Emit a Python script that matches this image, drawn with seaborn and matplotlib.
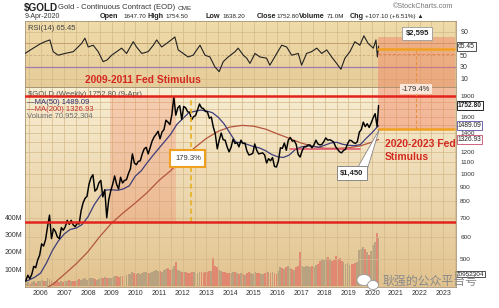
import numpy as np
import matplotlib
matplotlib.use("Agg")
import matplotlib.pyplot as plt
import matplotlib.transforms as mtransforms
from matplotlib.colors import LinearSegmentedColormap
from matplotlib.patches import Polygon, Ellipse
from matplotlib.ticker import NullLocator
import seaborn as sns

# ---------------- data ----------------
price_close = [
    418, 437, 425, 440, 470, 465, 495, 515,                                  # 2005 May-Dec
    565, 555, 585, 650, 715, 590, 640, 625, 598, 590, 645, 632,              # 2006
    650, 685, 663, 685, 660, 650, 668, 665, 740, 790, 820, 834,              # 2007
    920, 970, 995, 870, 885, 930, 950, 830, 880, 700, 810, 870,              # 2008
    920, 985, 920, 885, 975, 930, 950, 955, 1005, 1045, 1180, 1095,          # 2009
    1080, 1110, 1115, 1180, 1230, 1245, 1180, 1245, 1310, 1355, 1385, 1420,  # 2010
    1335, 1410, 1440, 1555, 1530, 1500, 1625, 1880, 1620, 1720, 1750, 1565,  # 2011
    1740, 1720, 1665, 1660, 1560, 1600, 1615, 1690, 1775, 1720, 1710, 1670,  # 2012
    1665, 1580, 1595, 1470, 1390, 1230, 1320, 1400, 1325, 1320, 1250, 1200,  # 2013
    1245, 1330, 1285, 1295, 1250, 1320, 1285, 1290, 1210, 1170, 1175, 1185,  # 2014
    1280, 1215, 1180, 1185, 1190, 1170, 1095, 1135, 1115, 1145, 1065, 1060,  # 2015
    1115, 1240, 1235, 1290, 1215, 1320, 1350, 1310, 1315, 1275, 1175, 1150,  # 2016
    1210, 1250, 1250, 1270, 1270, 1240, 1270, 1320, 1280, 1270, 1275, 1305,  # 2017
    1345, 1320, 1325, 1315, 1300, 1250, 1225, 1200, 1190, 1215, 1225, 1280,  # 2018
    1320, 1315, 1295, 1285, 1305, 1410, 1440, 1530, 1475, 1510, 1465, 1520,  # 2019
    1585, 1640, 1475, 1752.8,                                                # 2020 Jan-Apr
]
volume_m = [
    18, 25, 15, 22, 30, 20, 28, 32,
    35, 28, 30, 45, 42, 30, 25, 22, 28, 26, 30, 25,
    30, 28, 35, 32, 30, 28, 35, 40, 38, 42, 45, 38,
    48, 45, 50, 42, 38, 40, 45, 48, 55, 50, 45, 48,
    55, 60, 58, 55, 62, 58, 60, 65, 70, 72, 80, 78,
    72, 75, 70, 78, 85, 80, 75, 78, 85, 90, 95, 88,
    90, 85, 92, 100, 105, 95, 100, 120, 140, 95, 90, 85,
    80, 85, 78, 75, 82, 80, 75, 78, 85, 80, 78, 82,
    85, 90, 88, 165, 120, 110, 95, 90, 85, 80, 78, 75,
    78, 80, 82, 75, 72, 78, 70, 68, 75, 80, 78, 72,
    80, 78, 75, 72, 70, 75, 85, 80, 78, 82, 75, 72,
    90, 110, 105, 100, 110, 115, 105, 100, 95, 110, 120, 200,
    115, 110, 120, 115, 110, 118, 112, 125, 130, 150, 160, 155,
    165, 170, 160, 150, 155, 175, 160, 165, 150, 140, 130, 135,
    125, 130, 128, 135, 140, 210, 220, 230, 215, 200, 185, 205,
    240, 260, 310, 280,
]
start_year, start_month, last_point = 2005, 5, 2020.27

ma50_t = [2005.34, 2005.5, 2005.75, 2006.0, 2006.25, 2006.5, 2006.75, 2007.0, 2007.25, 2007.5,
          2007.75, 2008.0, 2008.25, 2008.5, 2008.75, 2009.0, 2009.25, 2009.5, 2009.75, 2010.0,
          2010.25, 2010.5, 2010.75, 2011.0, 2011.25, 2011.5, 2011.75, 2012.0, 2012.25, 2012.5,
          2012.75, 2013.0, 2013.25, 2013.5, 2013.75, 2014.0, 2014.25, 2014.5, 2014.75, 2015.0,
          2015.25, 2015.5, 2015.75, 2016.0, 2016.25, 2016.5, 2016.75, 2017.0, 2017.25, 2017.5,
          2017.75, 2018.0, 2018.25, 2018.5, 2018.75, 2019.0, 2019.25, 2019.5, 2019.75, 2020.0,
          2020.27]
ma50_v = [415, 420, 430, 445, 484, 536, 579, 613, 636, 643,
          662, 705, 775, 833, 878, 880, 876, 886, 910, 984,
          1028, 1098, 1167, 1237, 1310, 1389, 1501, 1574, 1651, 1671,
          1688, 1677, 1654, 1593, 1507, 1396, 1297, 1294, 1273, 1252,
          1238, 1211, 1175, 1153, 1146, 1169, 1222, 1249, 1259, 1255,
          1246, 1267, 1290, 1298, 1277, 1266, 1262, 1273, 1341, 1405,
          1489.09]
ma200_t = [2005.34, 2006.0, 2006.5, 2007.0, 2007.5, 2008.0, 2008.5, 2009.0, 2009.5, 2010.0,
           2010.5, 2011.0, 2011.5, 2012.0, 2012.5, 2013.0, 2013.5, 2014.0, 2014.5, 2015.0,
           2015.5, 2016.0, 2016.5, 2017.0, 2017.5, 2018.0, 2018.5, 2019.0, 2019.5, 2020.0, 2020.27]
ma200_v = [360, 385, 405, 440, 480, 530, 600, 670, 730, 790,
           860, 950, 1030, 1140, 1240, 1340, 1420, 1470, 1490, 1480,
           1445, 1390, 1340, 1290, 1255, 1235, 1235, 1240, 1260, 1300, 1326.93]

rsi_t = [2005.34, 2005.69, 2005.97, 2006.18, 2006.39, 2006.53, 2006.74, 2007.03, 2007.38, 2007.73,
         2007.87, 2008.01, 2008.22, 2008.43, 2008.64, 2008.81, 2009.00, 2009.21, 2009.42, 2009.63,
         2009.91, 2010.05, 2010.27, 2010.54, 2010.76, 2010.90, 2011.11, 2011.32, 2011.67, 2011.81,
         2012.02, 2012.23, 2012.44, 2012.73, 2012.94, 2013.15, 2013.36, 2013.54, 2013.71, 2013.92,
         2014.21, 2014.34, 2014.56, 2014.70, 2014.84, 2015.05, 2015.26, 2015.54, 2015.68, 2015.97,
         2016.18, 2016.39, 2016.60, 2016.88, 2017.02, 2017.23, 2017.44, 2017.66, 2017.87, 2018.08,
         2018.29, 2018.50, 2018.68, 2018.85, 2019.06, 2019.27, 2019.48, 2019.65, 2019.83, 2020.05,
         2020.16, 2020.22, 2020.27]
rsi_v = [53, 62, 69, 73, 76, 56, 50, 53, 56, 70,
         79, 64, 67, 56, 39, 42, 50, 56, 62, 53,
         73, 64, 53, 56, 67, 76, 64, 70, 81, 59,
         53, 47, 50, 67, 50, 47, 30, 22, 39, 47,
         56, 62, 50, 45, 36, 53, 47, 45, 33, 53,
         67, 64, 50, 53, 33, 53, 56, 62, 53, 59,
         47, 36, 26, 45, 56, 73, 67, 83, 70, 62,
         76, 47, 65.45]

year_labels = [str(y) for y in range(2006, 2024)]
price_ticks = [500, 600, 700, 800, 900, 1000, 1100, 1200, 1400, 1600, 1900]
rsi_ticks = [10, 30, 50, 90]
vol_ticks = [100, 200, 300, 400]

# ---------------- figure ----------------
W, H = 499, 308
sns.set_theme(style="white")
plt.rcParams['font.family'] = ['Liberation Sans', 'DejaVu Sans', 'Noto Sans CJK SC']

fig = plt.figure(figsize=(W / 100, H / 100), dpi=100)
fig.patch.set_facecolor('white')

L, R = 25, 456
RT, RB = 21, 87
PT, PB = 87, 287
XMIN, XMAX = 2005.34, 2023.54


def rect(x0, y0, x1, y1):
    return [x0 / W, 1 - y1 / H, (x1 - x0) / W, (y1 - y0) / H]


def T(x, y, s, **kw):
    kw.setdefault('va', 'center')
    return fig.text(x / W, 1 - y / H, s, **kw)


# gradient backgrounds
for (y0, y1, ctop, cbot) in [(RT, RB, '#efdcab', '#e6cc98'), (PT, PB, '#f8eed3', '#e2c38f')]:
    bg = fig.add_axes(rect(L, y0, R, y1), zorder=0)
    grad = np.linspace(0, 1, 256).reshape(-1, 1)
    bg.imshow(grad, aspect='auto', origin='lower', extent=[0, 1, 0, 1],
              cmap=LinearSegmentedColormap.from_list('g', [cbot, ctop]))
    bg.set_axis_off()

ax_r = fig.add_axes(rect(L, RT, R, RB), zorder=2)
ax_v = fig.add_axes(rect(L, PT, R, PB), zorder=1)
ax_p = fig.add_axes(rect(L, PT, R, PB), zorder=2)
for ax in (ax_r, ax_v, ax_p):
    ax.patch.set_visible(False)
    ax.set_xlim(XMIN, XMAX)

grid_c = '#d3b988'
half_years = np.arange(2005.5, 2023.6, 0.5)

# ---------------- volume ----------------
n = len(price_close)
t_month = start_year + (start_month - 1 + np.arange(n) + 0.5) / 12
t_month[-1] = last_point
pc = np.array(price_close, dtype=float)
up = np.r_[True, pc[1:] >= pc[:-1]]
vcols = np.where(up, '#9c8c74', '#e0605c')
ax_v.bar(t_month, volume_m, width=1 / 12 * 0.95, color=vcols, alpha=0.6, linewidth=0)
ax_v.set_ylim(-5, 1165)
ax_v.set_xticks([])
ax_v.yaxis.tick_left()
ax_v.set_yticks(vol_ticks)
ax_v.set_yticklabels([f'{v}M' for v in vol_ticks])
ax_v.tick_params(axis='y', length=0, pad=2, labelsize=5, colors='#333333')
for s in ax_v.spines.values():
    s.set_visible(False)

# ---------------- price panel ----------------
ax_p.set_yscale('log')
ax_p.set_ylim(397, 2040)
for x in half_years:
    ax_p.axvline(x, color=grid_c, lw=0.5, zorder=0)
for p in range(500, 2000, 100):
    ax_p.axhline(p, color=grid_c, lw=0.5, zorder=0)

# shaded stimulus regions
ax_p.fill_between([2008.93, 2011.71], 678, 1900, color='#f2876a', alpha=0.30, lw=0, zorder=1)
ax_p.fill_between([2020.24, 2023.50], 1450, 2040, color='#f08060', alpha=0.45, lw=0, zorder=1)

sns.lineplot(x=ma200_t, y=ma200_v, ax=ax_p, color='#b4553f', lw=0.9, zorder=3)
sns.lineplot(x=ma50_t, y=ma50_v, ax=ax_p, color='#3d3d7a', lw=0.9, zorder=3)
sns.lineplot(x=t_month, y=price_close, ax=ax_p, color='black', lw=1.05, zorder=4, estimator=None)

ax_p.axhline(1900, color='#e2241c', lw=1.8, zorder=5)
ax_p.axhline(678, color='#e2241c', lw=1.8, zorder=5)
ax_p.plot([2016.53, 2019.48], [1228, 1228], color='#e0506a', lw=1.1, zorder=3)
ax_p.plot([2012.33, 2012.33], [678, 1900], color='#e8b020', lw=1.2, ls=(0, (3, 2)), zorder=4)
ax_p.plot([2020.24, 2023.45], [1450, 1450], color='#f0a020', lw=1.8, zorder=5)
ax_p.plot([2021.85, 2021.85], [1450, 2040], color='#e89040', lw=0.8, ls=(0, (3, 2)), zorder=5,
          clip_on=False)

ax_p.text(2012.22, 1136, '179.3%', fontsize=5.5, ha='center', va='center', color='#333', zorder=6,
          bbox=dict(boxstyle='square,pad=0.6', fc='white', ec='#f0a020', lw=1.5))
ax_p.text(2021.85, 2000, '-179.4%', fontsize=5.5, ha='center', va='center', color='#333', zorder=6,
          clip_on=False, bbox=dict(boxstyle='square,pad=0.2', fc='#fbe6da', ec='none'))
ax_p.add_patch(Polygon([(2019.40, 1060), (2019.78, 1030), (2020.30, 1440)], closed=True,
                       fc='white', ec='#888888', lw=0.6, zorder=6))
ax_p.text(2019.15, 1008, '$1,450', fontsize=5.5, fontweight='bold', ha='center', va='center',
          color='#222', zorder=7, bbox=dict(boxstyle='square,pad=0.45', fc='white', ec='#888', lw=0.7))
ax_p.text(2020.54, 1281, '2020-2023 Fed', fontsize=7.5, fontweight='bold', color='#d42a22',
          ha='left', va='center', zorder=7, clip_on=False)
ax_p.text(2020.54, 1150, 'Stimulus', fontsize=7.5, fontweight='bold', color='#d42a22',
          ha='left', va='center', zorder=7, clip_on=False)

ax_p.yaxis.tick_right()
ax_p.set_yticks(price_ticks)
ax_p.set_yticklabels([str(p) for p in price_ticks])
ax_p.yaxis.set_minor_locator(NullLocator())
ax_p.tick_params(axis='y', length=0, pad=3, labelsize=4.6, colors='#333333')
ax_p.set_xticks(range(2006, 2024))
ax_p.set_xticklabels(year_labels)
ax_p.tick_params(axis='x', length=0, pad=2, labelsize=5, colors='#333333')
ax_p.set_xlabel('')
ax_p.set_ylabel('')

trans_p = mtransforms.blended_transform_factory(ax_p.transAxes, ax_p.transData)
for val, txt, ec, bold in [(1752.8, '1752.80', 'black', True), (1489.09, '1489.09', '#5a50a0', False),
                           (1326.93, '1326.93', '#c8486a', False)]:
    ax_p.text(1.004, val, txt, transform=trans_p, fontsize=4.8, ha='left', va='center',
              fontweight='bold' if bold else 'normal', color='#222', clip_on=False, zorder=8,
              bbox=dict(boxstyle='square,pad=0.15', fc='white', ec=ec, lw=0.6))
trans_v = mtransforms.blended_transform_factory(ax_v.transAxes, ax_v.transData)
ax_v.text(1.0, 70.95, '70952304', transform=trans_v, fontsize=4.6, ha='left', va='center',
          color='#222', clip_on=False, bbox=dict(boxstyle='square,pad=0.15', fc='white', ec='#333', lw=0.6))

# legend text in price panel
def ptxt(x, y, s, **kw):
    ax_p.text((x - L) / (R - L), (PB - y) / (PB - PT), s, transform=ax_p.transAxes,
              va='center', ha='left', zorder=4, **kw)

ptxt(28, 95, '$GOLD (Weekly) 1752.80 (9-Apr)', fontsize=5.5, color='#555')
ptxt(27, 102.5, '—MA(50) 1489.09', fontsize=5.5, color='#303070')
ptxt(27, 109.3, '—MA(200) 1326.93', fontsize=5.5, color='#c03030')
ptxt(27, 116, 'Volume 70,952,304', fontsize=5.5, color='#707070')

# ---------------- RSI panel ----------------
ax_r.set_ylim(-4.1, 108.2)
for x in half_years:
    ax_r.axvline(x, color=grid_c, lw=0.5, zorder=0)
for lvl, c, ls, lw in [(10, grid_c, '-', 0.5), (90, grid_c, '-', 0.5), (50, '#c9a878', (0, (3, 2)), 0.6),
                       (70, '#c2a070', '-', 0.7), (30, '#a07ab0', '-', 0.9)]:
    ax_r.axhline(lvl, color=c, ls=ls, lw=lw, zorder=0)
ax_r.fill_between([2020.24, 2023.50], -4.1, 81, color='#f08060', alpha=0.45, lw=0, zorder=1)
sns.lineplot(x=rsi_t, y=rsi_v, ax=ax_r, color='#222222', lw=0.8, zorder=3, estimator=None)
ax_r.plot([2020.24, 2023.45], [60.5, 60.5], color='#f0a020', lw=1.8, zorder=4)
ax_r.plot([2020.24, 2023.45], [52, 52], color='#e8844a', lw=0.7, ls=(0, (3, 2)), zorder=4)
ax_r.plot([2021.85, 2021.85], [-4.1, 60.5], color='#e89040', lw=0.8, ls=(0, (3, 2)), zorder=4)
ax_r.text(2021.9, 87, '$2,595', fontsize=5.5, fontweight='bold', ha='center', va='center', color='#222',
          zorder=6, bbox=dict(boxstyle='square,pad=0.45', fc='white', ec='#999', lw=0.6))
ax_r.text(2010.32, 8, '2009-2011 Fed Stimulus', fontsize=7.4, fontweight='bold', color='#d42a22',
          ha='center', va='center', zorder=6)
ax_r.text(0.006, 96, 'RSI(14) 65.45', transform=mtransforms.blended_transform_factory(ax_r.transAxes, ax_r.transData),
          fontsize=5.5, color='#444', va='center', ha='left')
ax_r.set_xticks([])
ax_r.yaxis.tick_right()
ax_r.set_yticks(rsi_ticks)
ax_r.set_yticklabels([str(v) for v in rsi_ticks])
ax_r.tick_params(axis='y', length=0, pad=3, labelsize=5, colors='#333333')
ax_r.set_xlabel('')
ax_r.set_ylabel('')
trans_r = mtransforms.blended_transform_factory(ax_r.transAxes, ax_r.transData)
ax_r.text(1.004, 65.45, '65.45', transform=trans_r, fontsize=4.8, ha='left', va='center', color='#222',
          clip_on=False, bbox=dict(boxstyle='square,pad=0.15', fc='white', ec='#333', lw=0.6))

for ax in (ax_r, ax_p):
    for s in ax.spines.values():
        s.set_color('#a89474')
        s.set_linewidth(0.6)

# ---------------- header ----------------
T(24, 7.5, '$GOLD', fontsize=7.2, fontweight='bold', color='#222')
T(58, 7.5, 'Gold - Continuous Contract (EOD)', fontsize=5.5, color='#333')
T(178, 8, 'CME', fontsize=4.6, color='#333')
T(393, 7, '©StockCharts.com', fontsize=5.2, color='#777')
T(25, 16.5, '9-Apr-2020', fontsize=5, color='#333')
for x, s, b in [(100, 'Open', True), (123, '1647.70', False), (147, 'High', True), (165, '1754.50', False),
                (205.7, 'Low', True), (222, '1638.20', False), (257, 'Close', True), (276, '1752.80', False),
                (299, 'Volume', True), (327, '71.0M', False), (350, 'Chg', True),
                (365, '+107.10 (+6.51%) ▲', False)]:
    T(x, 16.5, s, fontsize=5.2 if b else 4.5, fontweight='bold' if b else 'normal', color='#222')

# watermark
fig.patches.append(Ellipse((364 / W, 1 - 280 / H), 14 / W, 11 / H, transform=fig.transFigure,
                           fc='white', ec='#999', lw=0.6, zorder=10))
fig.patches.append(Ellipse((373 / W, 1 - 285 / H), 11 / W, 9 / H, transform=fig.transFigure,
                           fc='white', ec='#999', lw=0.6, zorder=10))
T(383, 281.5, '耿强的公众平台号', fontsize=8.6, color='#8a8a8a',
  family=['Noto Sans CJK SC', 'DejaVu Sans'], zorder=11)

fig.savefig('out.png', dpi=100, facecolor='white')
